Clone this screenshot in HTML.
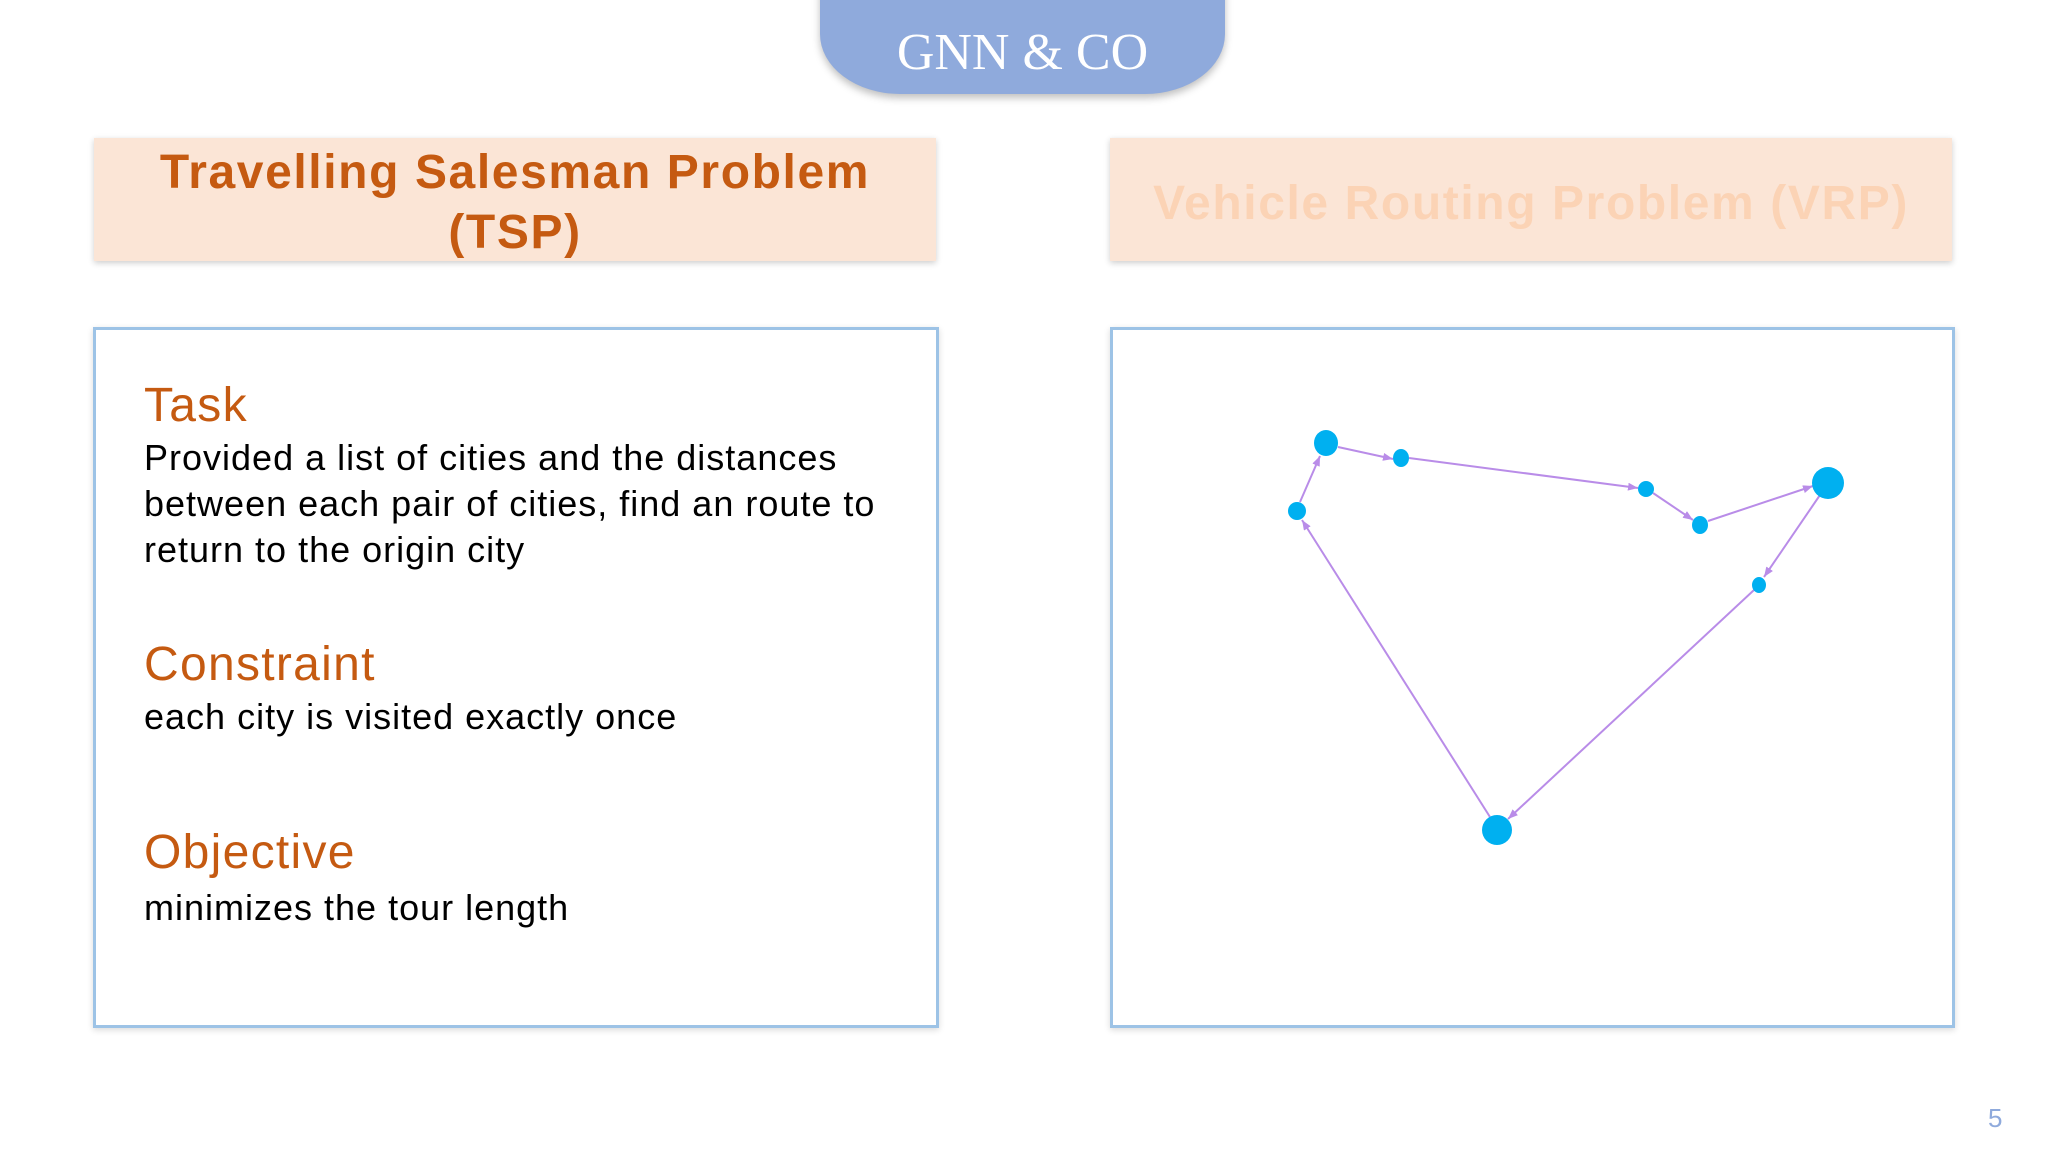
<!DOCTYPE html>
<html><head><meta charset="utf-8"><style>
html,body{margin:0;padding:0;background:#fff;}
body{width:2048px;height:1152px;position:relative;overflow:hidden;font-family:"Liberation Sans",sans-serif;}
.pill{position:absolute;left:820px;top:-60px;width:405px;height:154px;background:#8FAADC;border-radius:0 0 80px 80px/0 0 60px 60px;box-shadow:0 4px 8px rgba(0,0,0,0.25);}
.pill span{position:absolute;left:0;right:0;top:83px;text-align:center;font-family:"Liberation Serif",serif;font-size:52px;color:#fff;}
.hdr{position:absolute;top:138px;height:123px;background:#FBE5D6;box-shadow:0 2px 6px rgba(0,0,0,0.2);text-align:center;font-weight:bold;font-size:48px;letter-spacing:1.6px;}
.box{position:absolute;top:327px;height:695px;border:3px solid #9DC3E6;box-shadow:0 2px 6px rgba(0,0,0,0.15);background:#fff;}
.h{position:absolute;left:48px;font-size:48px;color:#C55A11;letter-spacing:1.3px;}
.t{position:absolute;left:48px;font-size:36px;color:#000;line-height:46px;letter-spacing:1px;}
</style></head><body>
<div class="pill"><span>GNN &amp; CO</span></div>
<div class="hdr" style="left:94px;width:842px;color:#C55A11;line-height:60px;padding-top:5px;box-sizing:border-box;">Travelling Salesman Problem<br>(TSP)</div>
<div class="hdr" style="left:1110px;width:842px;color:#FBD3B5;line-height:131px;">Vehicle Routing Problem (VRP)</div>
<div class="box" style="left:93px;width:840px;">
<div class="h" style="top:48px;">Task</div>
<div class="t" style="top:105px;">Provided a list of cities and the distances<br>between each pair of cities, find an route to<br>return to the origin city</div>
<div class="h" style="top:307px;">Constraint</div>
<div class="t" style="top:364px;">each city is visited exactly once</div>
<div class="h" style="top:495px;">Objective</div>
<div class="t" style="top:555px;">minimizes the tour length</div>
</div>
<div class="box" style="left:1110px;width:839px;"></div>
<svg style="position:absolute;left:0;top:0" width="2048" height="1152">
<defs><marker id="a" markerWidth="10" markerHeight="8" refX="10" refY="4" orient="auto" markerUnits="userSpaceOnUse"><path d="M0,0L10,4L0,8z" fill="#B98CE8"/></marker></defs>
<g stroke="#B98CE8" stroke-width="2" fill="none" marker-end="url(#a)">
<line x1="1338" y1="447" x2="1393" y2="459"/>
<line x1="1409" y1="458" x2="1638" y2="488"/>
<line x1="1653" y1="493" x2="1693" y2="520"/>
<line x1="1708" y1="521" x2="1813" y2="486"/>
<line x1="1820" y1="495" x2="1764" y2="577"/>
<line x1="1754" y1="590" x2="1508" y2="819"/>
<line x1="1490" y1="817" x2="1302" y2="520"/>
<line x1="1300" y1="502" x2="1320" y2="456"/>
</g>
<g fill="#00B0F0">
<ellipse cx="1326" cy="443" rx="12" ry="13"/>
<ellipse cx="1401" cy="458" rx="8" ry="9"/>
<ellipse cx="1646" cy="489" rx="8" ry="8"/>
<ellipse cx="1700" cy="525" rx="8" ry="9"/>
<ellipse cx="1828" cy="483" rx="16" ry="16"/>
<ellipse cx="1759" cy="585" rx="7" ry="8"/>
<ellipse cx="1497" cy="830" rx="15" ry="15"/>
<ellipse cx="1297" cy="511" rx="9" ry="9"/>
</g>
</svg>
<div style="position:absolute;left:1988px;top:1103px;font-family:'Liberation Sans',sans-serif;font-size:26px;color:#8FAADC;">5</div>
</body></html>
